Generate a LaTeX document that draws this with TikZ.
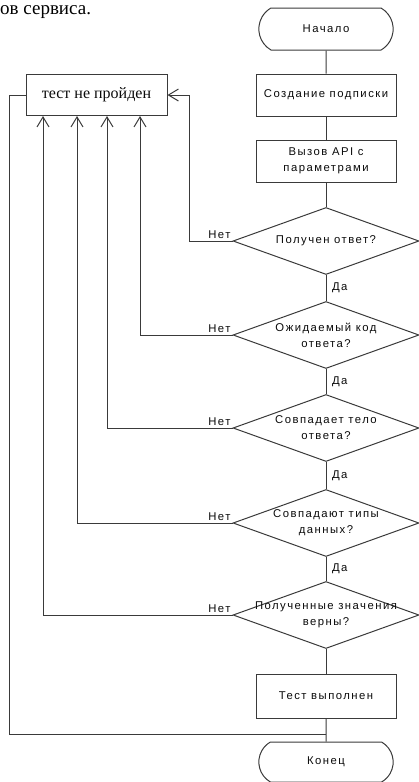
\documentclass[tikz,border=0pt]{standalone}
\usepackage{fontspec}
\setmainfont{Liberation Serif}
\newfontfamily\chartfont[LetterSpace=13]{Liberation Sans}
\usepackage{xcolor}
\definecolor{linecolor}{HTML}{3a3a3a}
\definecolor{textcolor}{HTML}{0a0a0a}
\usepackage{tikz}
\usetikzlibrary{positioning,arrows.meta,shapes.geometric,shapes.misc,calc}
\tikzset{
    block/.style={
        rectangle,
        draw=linecolor,
        text=textcolor,
        minimum height=42pt,
        minimum width=140pt,
        align=center,
        line width=1pt,
        inner sep=1pt,
        font=\chartfont\fontsize{11.3}{16}\selectfont,
    },
    terminal/.style={
        rounded rectangle,
        rounded rectangle arc length=120,
        draw=linecolor,
        text=textcolor,
        minimum height=42pt,
        minimum width=141pt,
        line width=1pt,
        font=\chartfont\fontsize{11.3}{16}\selectfont,
    },
    decision/.style={
        diamond,
        draw=linecolor,
        minimum height=67pt,
        minimum width=186pt,
        inner sep=0pt,
        line width=1pt,
    },
    dtext/.style={
        text=textcolor,
        align=center,
        inner sep=0pt,
        font=\chartfont\fontsize{11.3}{16}\selectfont,
    },
    failbox/.style={
        rectangle,
        draw=linecolor,
        text=textcolor,
        minimum height=41pt,
        minimum width=141pt,
        line width=1pt,
        font=\fontsize{16}{19}\selectfont,
    },
    flow/.style={
        draw=linecolor,
        line width=1pt,
    },
    nobranch/.style={
        flow,
        -{Straight Barb[length=10pt,width=12pt]},
    },
    lbl/.style={
        text=textcolor,
        inner sep=1.5pt,
        font=\chartfont\fontsize{11.3}{13}\selectfont,
    },
}

\begin{document}
\begin{tikzpicture}[x=1pt,y=-1pt]
    \useasboundingbox (0,0) rectangle (418,782);

    % Cut-off line of the page text
    \node[anchor=base west, inner sep=0pt, font=\fontsize{19}{22}\selectfont] (heading) at (0,14) {ов сервиса.};

    % Main column
    \node[terminal] (start) at (326,29) {Начало};
    \node[block] (sub) at (326,95) {Создание подписки};
    \node[block] (api) at (326,161) {Вызов API с\\параметрами};
    \node[decision] (q1) at (326,241) {};
    \node[decision] (q2) at (326,335) {};
    \node[decision] (q3) at (326,428) {};
    \node[decision] (q4) at (326,523) {};
    \node[decision] (q5) at (326,615) {};
    \node[block, minimum height=44pt] (done) at (326,696) {Тест выполнен};
    \node[terminal, minimum height=40pt] (end) at (326,762) {Конец};

    % Decision texts
    \node[dtext] (q1text) at (q1) {Получен ответ?};
    \node[dtext] (q2text) at (q2) {Ожидаемый код\\ответа?};
    \node[dtext] (q3text) at (q3) {Совпадает тело\\ответа?};
    \node[dtext] (q4text) at (q4) {Совпадают типы\\данных?};
    \node[dtext] (q5text) at (q5) {Полученные значения\\верны?};

    % Failure box
    \node[failbox] (fail) at (96.5,95) {тест не пройден};

    % Yes path
    \draw[flow] (start) -- (sub);
    \draw[flow] (sub) -- (api);
    \draw[flow] (api) -- (q1);
    \draw[flow] (q1) -- node[lbl, right=4pt] {Да} (q2);
    \draw[flow] (q2) -- node[lbl, right=4pt] {Да} (q3);
    \draw[flow] (q3) -- node[lbl, right=4pt] {Да} (q4);
    \draw[flow] (q4) -- node[lbl, right=4pt] {Да} (q5);
    \draw[flow] (q5) -- (done);
    \draw[flow] (done) -- (end);

    % No paths into the failure box
    \coordinate (k1) at ($(fail.east)+(22,0)$);
    \draw[nobranch] (q1.west) node[lbl, above left] {Нет} -| (k1) -- (fail.east);
    \draw[nobranch] (q2.west) node[lbl, above left] {Нет} -| ([xshift=43.5pt]fail.south);
    \draw[nobranch] (q3.west) node[lbl, above left] {Нет} -| ([xshift=10.5pt]fail.south);
    \draw[nobranch] (q4.west) node[lbl, above left] {Нет} -| ([xshift=-19.5pt]fail.south);
    \draw[nobranch] (q5.west) node[lbl, above left] {Нет} -| ([xshift=-53.5pt]fail.south);

    % Failure box back to the end
    \coordinate (join) at ($(done.south)!0.7!(end.north)$);
    \draw[flow] (fail.west) -- ++(-16,0) |- (join);

\end{tikzpicture}
\end{document}
